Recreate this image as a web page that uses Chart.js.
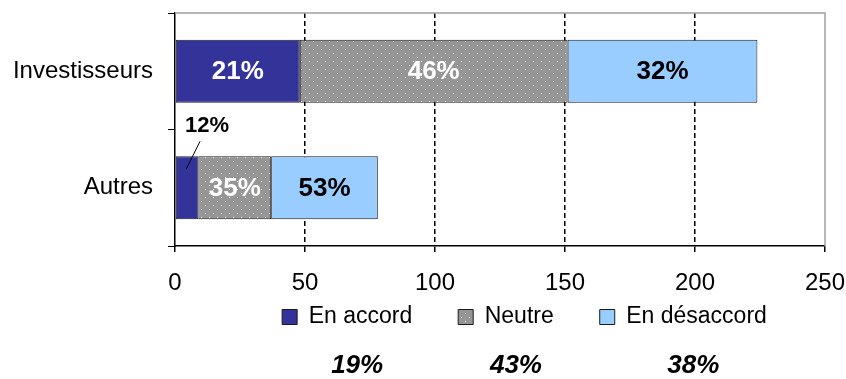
<!DOCTYPE html>
<html>
<head>
<meta charset="utf-8">
<script src="https://cdn.jsdelivr.net/npm/chart.js@4"></script>
<style>
  body { margin: 0; background: #fff; }
  canvas { display: block; }
</style>
</head>
<body>
<canvas id="chart" width="846" height="379"></canvas>
<script>
// data
const categories = ['Investisseurs', 'Autres'];
const seriesNames = ['En accord', 'Neutre', 'En désaccord'];
const accord = [48, 9];
const neutre = [103, 28];
const desaccord = [73, 41];
const accordLabels = ['21%', '12%'];
const neutreLabels = ['46%', '35%'];
const desaccordLabels = ['32%', '53%'];
const totalLabels = ['19%', '43%', '38%'];

const FONT = "'Liberation Sans', Arial, sans-serif";
Chart.defaults.font.family = FONT;
Chart.defaults.color = '#000';

function dotPattern() {
  const c = document.createElement('canvas');
  c.width = 8; c.height = 8;
  const g = c.getContext('2d');
  g.fillStyle = '#969696';
  g.fillRect(0, 0, 8, 8);
  g.fillStyle = '#fff';
  g.fillRect(1, 1, 1, 1);
  g.fillRect(5, 5, 1, 1);
  return g.createPattern(c, 'repeat');
}

const barLabels = [accordLabels, neutreLabels, desaccordLabels];
const labelColors = ['#fff', '#fff', '#000'];

const labelsPlugin = {
  id: 'labels',
  afterUpdate(chart) {
    // put the legend where the original has it
    const lg = chart.legend;
    lg.left += 112;
    lg.right += 112;
    lg.top -= 38.5;
    lg.bottom -= 38.5;
    lg.adjustHitBoxes();
  },
  beforeDatasetsDraw(chart) {
    // gray frame on top and right
    const a = chart.chartArea, ctx = chart.ctx;
    ctx.save();
    ctx.strokeStyle = '#a0a0a0';
    ctx.lineWidth = 1.5;
    ctx.beginPath();
    ctx.moveTo(a.left, a.top);
    ctx.lineTo(a.right, a.top);
    ctx.lineTo(a.right, a.bottom);
    ctx.stroke();
    ctx.restore();
  },
  afterDatasetsDraw(chart) {
    const ctx = chart.ctx;
    ctx.save();
    ctx.textAlign = 'center';
    ctx.textBaseline = 'middle';
    chart.data.datasets.forEach((ds, di) => {
      chart.getDatasetMeta(di).data.forEach((bar, i) => {
        const txt = barLabels[di][i];
        const l = Math.min(bar.x, bar.base), r = Math.max(bar.x, bar.base);
        const cx = (l + r) / 2;
        const top = bar.y - bar.height / 2;
        if (r - l < 40) {
          ctx.strokeStyle = '#000';
          ctx.lineWidth = 1;
          ctx.beginPath();
          ctx.moveTo(cx - 1, top + 13);
          ctx.lineTo(cx + 13, top - 15);
          ctx.stroke();
          ctx.fillStyle = '#000';
          ctx.font = 'bold 22px ' + FONT;
          ctx.fillText(txt, cx + 20, top - 30);
        } else {
          ctx.fillStyle = labelColors[di];
          ctx.font = 'bold 26px ' + FONT;
          ctx.fillText(txt, cx, bar.y + 1);
        }
      });
    });
    ctx.restore();
  },
  afterDraw(chart) {
    // totals row under the legend
    const ctx = chart.ctx, lg = chart.legend;
    ctx.save();
    ctx.font = 'italic bold 26px ' + FONT;
    ctx.fillStyle = '#000';
    ctx.textAlign = 'center';
    ctx.textBaseline = 'middle';
    lg.legendHitBoxes.forEach((hb, i) => {
      ctx.fillText(totalLabels[i], hb.left + hb.width / 2 + 10, 366);
    });
    ctx.restore();
  }
};

new Chart(document.getElementById('chart'), {
  type: 'bar',
  data: {
    labels: categories,
    datasets: [
      { label: seriesNames[0], data: accord, backgroundColor: '#333399' },
      { label: seriesNames[1], data: neutre, backgroundColor: dotPattern() },
      { label: seriesNames[2], data: desaccord, backgroundColor: '#99ccff' }
    ].map(d => Object.assign(d, {
      borderColor: '#1a1a1a',
      borderWidth: 1,
      borderSkipped: false,
      barPercentage: 0.54,
      categoryPercentage: 1
    }))
  },
  options: {
    indexAxis: 'y',
    responsive: false,
    animation: false,
    layout: { padding: { left: 0, right: 21, top: 13, bottom: 2 } },
    scales: {
      x: {
        stacked: true,
        min: 0,
        max: 250,
        afterFit: s => { s.height = 52; s.paddingLeft = 0; s.paddingRight = 0; },
        ticks: { font: { size: 24 }, padding: 17, maxRotation: 0, stepSize: 50 },
        grid: {
          color: c => (c.tick && (c.tick.value === 0 || c.tick.value === 250)) ? 'rgba(0,0,0,0)' : '#000',
          lineWidth: 1.5,
          tickColor: '#000',
          tickBorderDash: [],
          tickLength: 6
        },
        border: { color: '#000', width: 1.5, dash: [5, 3] }
      },
      y: {
        stacked: true,
        afterFit: s => { s.width = 175; s.paddingTop = 0; s.paddingBottom = 0; },
        ticks: { font: { size: 24 }, padding: 15 },
        grid: { drawOnChartArea: false, color: '#000', tickLength: 7, offset: true },
        border: { color: '#000', width: 1.5 }
      }
    },
    plugins: {
      legend: {
        position: 'bottom',
        labels: {
          boxWidth: 15,
          boxHeight: 15,
          padding: 46,
          font: { size: 23 },
          color: '#000'
        }
      },
      tooltip: { enabled: false }
    }
  },
  plugins: [labelsPlugin]
});
</script>
</body>
</html>
